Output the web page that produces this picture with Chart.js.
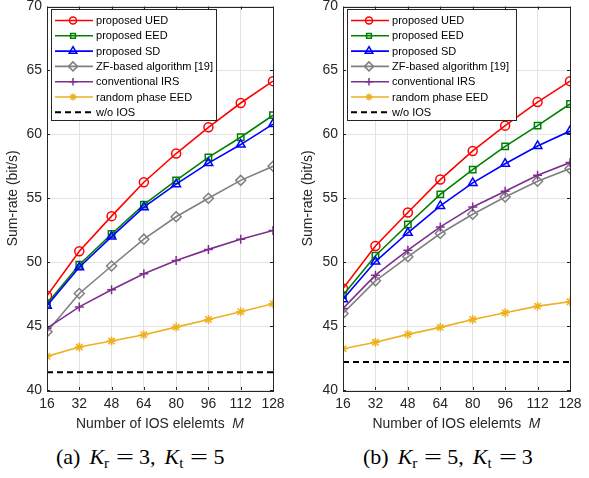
<!DOCTYPE html>
<html>
<head>
<meta charset="utf-8">
<script src="https://cdn.jsdelivr.net/npm/chart.js@4/dist/chart.umd.min.js"></script>
<style>
  html, body { margin: 0; padding: 0; background: #fff; }
  #wrap { position: relative; width: 589px; height: 478px; overflow: hidden; }
  .cv { position: absolute; top: 0; }
  .cap { position: absolute; top: 446px; font-family: "Liberation Serif", "DejaVu Serif", serif; font-size: 22px; line-height: 22px; color: #000; white-space: nowrap; }
  .cap span { display: inline-block; }
  .cap .k { font-style: italic; margin-left: 9px; }
  .cap .k2 { font-style: italic; margin-left: 9px; }
  .cap sub { font-size: 15px; vertical-align: -4px; line-height: 0; font-style: normal; }
  .cap .eq { width: 18px; text-align: center; transform: scaleX(1.45); margin-left: 7px; margin-right: 5px; }
</style>
</head>
<body>
<div id="wrap">
  <div class="cv" style="left:0;width:295px;height:440px;"><canvas id="c1" width="295" height="440"></canvas></div>
  <div class="cv" style="left:295px;width:294px;height:440px;"><canvas id="c2" width="294" height="440"></canvas></div>
  <div class="cap" style="left:56px;"><span>(a)</span><span class="k">K<sub>r</sub></span><span class="eq">=</span><span>3,</span><span class="k2">K<sub>t</sub></span><span class="eq">=</span><span>5</span></div>
  <div class="cap" style="left:363px;"><span>(b)</span><span class="k">K<sub>r</sub></span><span class="eq">=</span><span>5,</span><span class="k2">K<sub>t</sub></span><span class="eq">=</span><span>3</span></div>
</div>
<script>
// ---- data ----
const M = [16, 32, 48, 64, 80, 96, 112, 128];
const seriesNames = ["proposed UED", "proposed EED", "proposed SD", "ZF-based algorithm [19]", "conventional IRS", "random phase EED", "w/o IOS"];

// (a) Kr = 3, Kt = 5
const a_UED = [47.37, 50.86, 53.6, 56.25, 58.5, 60.55, 62.45, 64.16];
const a_EED = [46.75, 49.8, 52.2, 54.5, 56.4, 58.2, 59.77, 61.5];
const a_SD = [46.6, 49.6, 52.0, 54.3, 56.1, 57.75, 59.2, 60.8];
const a_ZF = [44.55, 47.55, 49.7, 51.8, 53.55, 55.0, 56.4, 57.5];
const a_IRS = [44.84, 46.5, 47.84, 49.1, 50.13, 51.0, 51.8, 52.48];
const a_RAND = [42.63, 43.36, 43.83, 44.32, 44.92, 45.52, 46.12, 46.75];
const a_WO = [41.38, 41.38, 41.38, 41.38, 41.38, 41.38, 41.38, 41.38];

// (b) Kr = 5, Kt = 3
const b_UED = [47.94, 51.27, 53.88, 56.46, 58.7, 60.68, 62.52, 64.16];
const b_EED = [47.42, 50.5, 52.95, 55.3, 57.24, 59.06, 60.68, 62.37];
const b_SD = [47.1, 50.05, 52.3, 54.4, 56.2, 57.7, 59.09, 60.26];
const b_ZF = [45.99, 48.54, 50.42, 52.24, 53.75, 55.1, 56.33, 57.32];
const b_IRS = [46.38, 48.98, 50.94, 52.76, 54.32, 55.55, 56.8, 57.79];
const b_RAND = [43.23, 43.73, 44.35, 44.9, 45.52, 46.04, 46.56, 46.9];
const b_WO = [42.19, 42.19, 42.19, 42.19, 42.19, 42.19, 42.19, 42.19];

const yTicks = [40, 45, 50, 55, 60, 65, 70];
const xTitle = "Number of IOS elelemts";
const xTitleVar = "M";
const yTitle = "Sum-rate (bit/s)";

// ---- styles ----
const styles = [
  { color: "#ff0000", pointStyle: "circle", r: 4.5, legR: 3.5 },
  { color: "#008000", pointStyle: "rect", r: 4.5, legR: 3.4 },
  { color: "#0000ff", pointStyle: "triangle", r: 5, legR: 4.4 },
  { color: "#808080", pointStyle: "rectRot", r: 5, legR: 4.5 },
  { color: "#7e2f8e", pointStyle: "cross", r: 4.5, legR: 3.8 },
  { color: "#edb120", pointStyle: "star", r: 4.5, legR: 3.5 },
  { color: "#000000", pointStyle: false, r: 0, legR: 0, dash: [6, 4] }
];

function makeDatasets(arrs) {
  return arrs.map((arr, i) => {
    const s = styles[i];
    return {
      label: seriesNames[i],
      data: M.map((m, j) => ({ x: m, y: arr[j] })),
      borderColor: s.color,
      backgroundColor: "rgba(0,0,0,0)",
      borderWidth: i === 6 ? 2 : 1.6,
      borderDash: s.dash || [],
      pointStyle: s.pointStyle,
      pointRadius: s.r,
      pointBorderWidth: 1.5,
      pointBorderColor: s.color,
      pointBackgroundColor: "rgba(0,0,0,0)",
      tension: 0
    };
  }).reverse();
}

const FONT = "'Liberation Sans', Arial, Helvetica, sans-serif";

// fit font sizes to the widths measured on the reference
const mctx = document.createElement("canvas").getContext("2d");
function fitSize(text, targetW, italicTail) {
  mctx.font = "20px " + FONT;
  let w = mctx.measureText(text).width;
  if (italicTail) { mctx.font = "italic 20px " + FONT; w += mctx.measureText(italicTail).width; }
  return 20 * targetW / w;
}
const LEGFS = Math.min(13, Math.max(10, fitSize("ZF-based algorithm [19]", 117)));
const AXFS = Math.min(15, Math.max(12, fitSize(xTitle + "  ", 168, xTitleVar)));

const customPlugin = {
  id: "matlabDecor",
  afterDraw(chart) {
    const ctx = chart.ctx;
    const ca = chart.chartArea;
    ctx.save();
    // axis box
    ctx.strokeStyle = "#262626";
    ctx.lineWidth = 1;
    ctx.strokeRect(Math.round(ca.left) + 0.5, Math.round(ca.top) + 0.5, Math.round(ca.right - ca.left), Math.round(ca.bottom - ca.top));
    // inner tick marks
    const xs = chart.scales.x, ys = chart.scales.y;
    ctx.beginPath();
    M.forEach(v => {
      const px = Math.round(xs.getPixelForValue(v)) + 0.5;
      ctx.moveTo(px, ca.bottom); ctx.lineTo(px, ca.bottom - 3);
      ctx.moveTo(px, ca.top); ctx.lineTo(px, ca.top + 3);
    });
    yTicks.forEach(v => {
      const py = Math.round(ys.getPixelForValue(v)) + 0.5;
      ctx.moveTo(ca.left, py); ctx.lineTo(ca.left + 3, py);
      ctx.moveTo(ca.right, py); ctx.lineTo(ca.right - 3, py);
    });
    ctx.stroke();

    // x title with italic variable
    ctx.fillStyle = "#262626";
    ctx.textBaseline = "middle";
    ctx.font = AXFS + "px " + FONT;
    const t1 = xTitle + "  ";
    const w1 = ctx.measureText(t1).width;
    ctx.font = "italic " + AXFS + "px " + FONT;
    const w2 = ctx.measureText(xTitleVar).width;
    const cx = (ca.left + ca.right) / 2;
    const sx = cx - (w1 + w2) / 2;
    ctx.font = AXFS + "px " + FONT;
    ctx.textAlign = "left";
    ctx.fillText(t1, sx, ca.bottom + 34);
    ctx.font = "italic " + AXFS + "px " + FONT;
    ctx.fillText(xTitleVar, sx + w1, ca.bottom + 34);

    // legend
    const lx = Math.round(ca.left + 4), ly = Math.round(ca.top + 2);
    const lw = chart.canvas.id === "c1" ? 165 : 169;
    const rowH = 15.3, lh = 111;
    ctx.fillStyle = "#ffffff";
    ctx.fillRect(lx, ly, lw, lh);
    ctx.strokeStyle = "#262626";
    ctx.lineWidth = 1;
    ctx.strokeRect(lx + 0.5, ly + 0.5, lw, lh);
    ctx.font = LEGFS + "px " + FONT;
    ctx.textAlign = "left";
    ctx.textBaseline = "middle";
    seriesNames.forEach((name, i) => {
      const s = styles[i];
      const y = ly + 11.5 + i * rowH;
      ctx.save();
      ctx.strokeStyle = s.color;
      ctx.lineWidth = i === 6 ? 2 : 1.6;
      ctx.setLineDash(s.dash || []);
      ctx.beginPath();
      ctx.moveTo(lx + 4, y); ctx.lineTo(lx + 42, y);
      ctx.stroke();
      ctx.restore();
      if (s.pointStyle) {
        ctx.save();
        ctx.strokeStyle = s.color;
        ctx.fillStyle = "rgba(0,0,0,0)";
        ctx.lineWidth = 1.5;
        Chart.helpers.drawPoint(ctx, { pointStyle: s.pointStyle, radius: s.legR, borderWidth: 1.5 }, lx + 22, y);
        ctx.restore();
      }
      ctx.fillStyle = "#000";
      ctx.fillText(name, lx + 45, y + 0.5);
    });
    ctx.restore();
  }
};

function makeChart(id, arrs, yWidth, rightPad) {
  return new Chart(document.getElementById(id), {
    type: "line",
    data: { datasets: makeDatasets(arrs) },
    options: {
      responsive: false,
      animation: false,
      layout: { padding: { left: 0, right: rightPad, top: 6, bottom: 0 } },
      plugins: { legend: { display: false }, tooltip: { enabled: false } },
      scales: {
        x: {
          type: "linear", min: 16, max: 128,
          afterBuildTicks(scale) { scale.ticks = M.map(v => ({ value: v })); },
          afterFit(scale) { scale.height = 50; scale.paddingLeft = 0; scale.paddingRight = 0; },
          grid: { color: "#e3e3e3", lineWidth: 1, drawTicks: false },
          border: { display: false },
          ticks: { color: "#262626", font: { family: FONT, size: AXFS }, padding: 6, maxRotation: 0, autoSkip: false }
        },
        y: {
          min: 40, max: 70,
          afterBuildTicks(scale) { scale.ticks = yTicks.map(v => ({ value: v })); },
          afterFit(scale) { scale.width = yWidth; scale.paddingTop = 0; scale.paddingBottom = 0; },
          grid: { color: "#e3e3e3", lineWidth: 1, drawTicks: false },
          border: { display: false },
          title: { display: true, text: yTitle, color: "#262626", font: { family: FONT, size: AXFS }, padding: { top: 5, bottom: 0 } },
          ticks: { color: "#262626", font: { family: FONT, size: AXFS }, padding: 5 }
        }
      }
    },
    plugins: [customPlugin]
  });
}

makeChart("c1", [a_UED, a_EED, a_SD, a_ZF, a_IRS, a_RAND, a_WO], 47, 22);
makeChart("c2", [b_UED, b_EED, b_SD, b_ZF, b_IRS, b_RAND, b_WO], 48, 19);
</script>
</body>
</html>
